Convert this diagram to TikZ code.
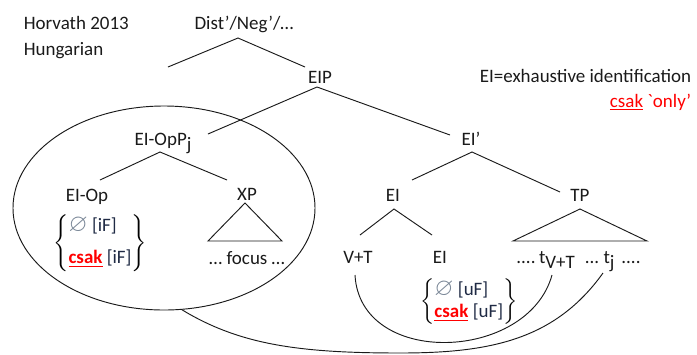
\documentclass[tikz,border=0pt]{standalone}
\usepackage{fontspec}
\setmainfont{Carlito}[Ligatures=TeXOff]
\usepackage{xcolor}
\usepackage{amsmath}
\usepackage{amssymb}
\usepackage{tikz}
\usetikzlibrary{calc,positioning,shapes.geometric}
\definecolor{csakRed}{HTML}{FF0000}
\definecolor{nullGray}{HTML}{7A8797}
\definecolor{featNavy}{HTML}{1F2A44}
\definecolor{inkBlack}{HTML}{1A1A1A}
\newcommand{\lowsub}[1]{\raisebox{-0.3em}{#1}}
\newcommand{\csakmark}{\textcolor{csakRed}{\underline{\textbf{csak}}}}
\newcommand{\nullmark}{\textcolor{nullGray}{\scalebox{1.3}{$\varnothing$}}}
\newcommand{\featset}[3]{$\left\{\begin{tabular}{@{}l@{}}#1\\[#3]#2\end{tabular}\right\}$}

\begin{document}
\begin{tikzpicture}[x=0.03cm, y=-0.03cm,
  every node/.style={font={\fontsize{16.2}{19.4}\selectfont}},
  lbl/.style={anchor=base, inner sep=0.5pt, text=inkBlack},
  branch/.style={draw=inkBlack, line width=0.8pt}]
\useasboundingbox (0,0) rectangle (697,354);
% header and legend
\node[lbl, anchor=base west] (horv) at (23,29) {Horvath 2013};
\node[lbl, anchor=base west] (hung) at (23,55) {Hungarian};
\node[lbl, anchor=base east] (legend) at (692,82) {EI=exhaustive identification};
\node[lbl, anchor=base east, text=csakRed] (gloss) at (692,107) {\underline{csak} `only’};
% tree nodes
\node[lbl] (dist) at (244,29) {Dist’/Neg’/…};
\node[lbl] (eip) at (320,83) {EIP};
\node[lbl] (eiopp) at (163,145) {EI-OpP\lowsub{j}};
\node[lbl] (eibar) at (471,145) {EI’};
\node[lbl] (eiop) at (87,201) {EI-Op};
\node[lbl] (xp) at (247,200) {XP};
\node[lbl] (eihead) at (393,201) {EI};
\node[lbl] (tp) at (580,201) {TP};
\node[lbl] (focus) at (247,264) {… focus …};
\node[lbl] (vt) at (358,263) {V+T};
\node[lbl] (eilow) at (440,263) {EI};
\node[lbl] (dotsa) at (526,263) {....};
\node[lbl] (tvt) at (557,263) {t\lowsub{V+T}};
\node[lbl] (dotsb) at (592,263) {...};
\node[lbl] (tj) at (609,263) {t\lowsub{j}};
\node[lbl] (dotsc) at (631,263) {....};
% feature sets
\node[anchor=west, inner sep=0pt] (feati) at (53,243)
  {\featset{\nullmark{} \textcolor{featNavy}{[iF]}}{\csakmark{} \textcolor{featNavy}{[iF]}}{8pt}};
\node[anchor=west, inner sep=0pt] (featu) at (420,302)
  {\featset{\rule{0pt}{16pt}\nullmark{} \textcolor{featNavy}{[uF]}}{\rule[-8pt]{0pt}{8pt}\csakmark{} \textcolor{featNavy}{[uF]}}{-1pt}};
% focus domain
\node[branch, ellipse, minimum width=9.06cm, minimum height=6.12cm, inner sep=0pt] (ring) at (164,208) {};
% branches
\coordinate (distleft) at (168,67);
\draw[branch] (distleft) -- ($(dist.base)+(-6,9)$) -- ($(eip.base)+(-15,-16)$);
\draw[branch] ($(eiopp.base)+(45,-11)$) -- ($(eip.base)+(-3,4)$) -- ($(eibar.base)+(-21,-10)$);
\draw[branch] ($(eiop.base)+(13,-21)$) -- ($(eiopp.base)+(-3,7)$) -- ($(xp.base)+(-20,-20)$);
\draw[branch] ($(eihead.base)+(19,-21)$) -- ($(eibar.base)+(1,7)$) -- ($(tp.base)+(-20,-9)$);
\draw[branch] ($(vt.base)+(2,-28)$) -- ($(eihead.base)+(1,8)$) -- ($(eilow.base)+(-8,-28)$);
% triangles
\draw[branch] ($(xp.base)+(-2,3)$) -- ($(xp.base)+(-39,41)$) -- ($(xp.base)+(35,41)$) -- cycle;
\draw[branch] ($(tp.base)+(0,8)$) -- ($(tp.base)+(-67,40)$) -- ($(tp.base)+(67,40)$) -- cycle;
% movement
\draw[branch] ($(vt.base)+(-3,12)$) .. controls (360,368) and (528,362) .. ($(tvt.base)+(-5,12)$);
\draw[branch] (ring.-80) .. controls (240,345) and (300,353) .. (400,353)
  .. controls (490,353) and (555,340) .. ($(tj.base)+(-6,10)$);
\end{tikzpicture}
\end{document}
